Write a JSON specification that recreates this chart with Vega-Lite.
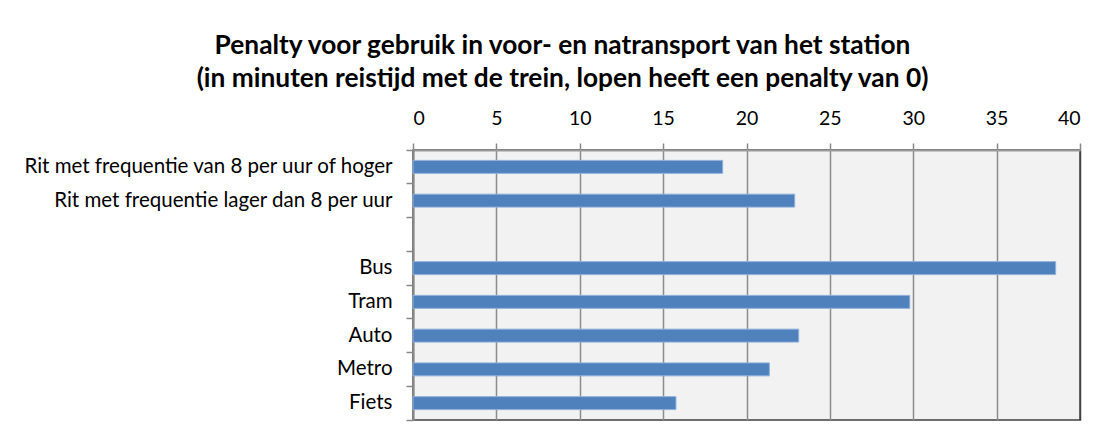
{
  "$schema": "https://vega.github.io/schema/vega-lite/v6.json",
  "autosize": "none",
  "width": 667,
  "height": 270,
  "padding": {"left": 413, "top": 150, "right": 19, "bottom": 17},
  "background": "white",
  "title": {
    "text": ["Penalty voor gebruik in voor- en natransport van het station", "(in  minuten reistijd met de trein, lopen heeft een penalty van 0)"],
    "font": "Lato",
    "fontSize": 26.3,
    "fontWeight": "bold",
    "color": "black",
    "anchor": "middle",
    "dx": -184,
    "lineHeight": 33,
    "offset": 16
  },
  "data": {
    "values": [
      {"categorie": "Rit met frequentie van 8 per uur of hoger", "penalty": 18.57},
      {"categorie": "Rit met frequentie lager dan 8 per uur", "penalty": 22.89},
      {"categorie": "Bus", "penalty": 38.54},
      {"categorie": "Tram", "penalty": 29.79},
      {"categorie": "Auto", "penalty": 23.13},
      {"categorie": "Metro", "penalty": 21.37},
      {"categorie": "Fiets", "penalty": 15.77}
    ]
  },
  "mark": {"type": "bar", "color": "#4f81bd", "stroke": "#8fb0dc", "strokeWidth": 1, "height": {"band": 0.385}},
  "encoding": {
    "y": {
      "field": "categorie",
      "type": "nominal",
      "sort": null,
      "scale": {
        "domain": ["Rit met frequentie van 8 per uur of hoger", "Rit met frequentie lager dan 8 per uur", " ", "Bus", "Tram", "Auto", "Metro", "Fiets"],
        "paddingInner": 0,
        "paddingOuter": 0
      },
      "axis": {
        "title": null,
        "bandPosition": 1,
        "tickExtra": true,
        "tickSize": 7,
        "tickColor": "#888888",
        "tickWidth": 1.5,
        "domainColor": "#888888",
        "domainWidth": 2,
        "labelFont": "Lato",
        "labelFontSize": 20.5,
        "labelColor": "black",
        "labelPadding": 14,
        "labelLimit": 500
      }
    },
    "x": {
      "field": "penalty",
      "type": "quantitative",
      "scale": {"domain": [0, 40], "nice": false},
      "axis": {
        "orient": "top",
        "title": null,
        "values": [0, 5, 10, 15, 20, 25, 30, 35, 40],
        "tickSize": 7,
        "tickColor": "#888888",
        "tickWidth": 1.5,
        "domainColor": "#999999",
        "domainWidth": 2,
        "grid": true,
        "gridColor": {"condition": {"test": "datum.value === 40", "value": "#404040"}, "value": "#8c8c8c"},
        "gridWidth": 1.5,
        "labelFont": "Lato",
        "labelFontSize": 19.5,
        "labelColor": "black",
        "labelPadding": 15
      }
    }
  },
  "config": {
    "view": {"fill": "#f2f2f2", "stroke": "#404040", "strokeWidth": 1.5}
  }
}
